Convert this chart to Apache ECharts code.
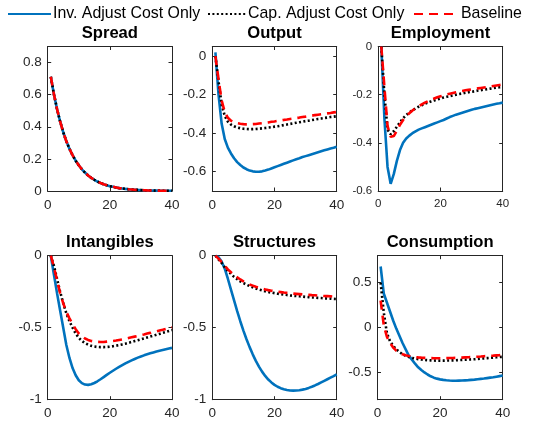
<!DOCTYPE html>
<html>
<head>
<meta charset="utf-8">
<script src="https://cdn.jsdelivr.net/npm/echarts@6/dist/echarts.min.js"></script>
<style>html,body{margin:0;padding:0;background:#fff}#c{width:551px;height:423px}</style>
</head>
<body>
<div id="c"></div>
<script>
const periods = [1,2,3,4,5,6,7,8,9,10,11,12,13,14,15,16,17,18,19,20,21,22,23,24,25,26,27,28,29,30,31,32,33,34,35,36,37,38,39,40];
const seriesNames = ['Inv. Adjust Cost Only', 'Cap. Adjust Cost Only', 'Baseline'];
const panelTitles = ['Spread', 'Output', 'Employment', 'Intangibles', 'Structures', 'Consumption'];

const spreadInv = [0.712,0.603,0.511,0.433,0.366,0.31,0.263,0.223,0.189,0.16,0.135,0.115,0.097,0.082,0.07,0.059,0.05,0.042,0.036,0.03,0.026,0.022,0.018,0.016,0.013,0.011,0.0095,0.008,0.0068,0.0058,0.0049,0.0041,0.0035,0.003,0.0025,0.0021,0.0018,0.0015,0.0013,0.0011];
const spreadCap = [0.712,0.603,0.511,0.433,0.366,0.31,0.263,0.223,0.189,0.16,0.135,0.115,0.097,0.082,0.07,0.059,0.05,0.042,0.036,0.03,0.026,0.022,0.018,0.016,0.013,0.011,0.0095,0.008,0.0068,0.0058,0.0049,0.0041,0.0035,0.003,0.0025,0.0021,0.0018,0.0015,0.0013,0.0011];
const spreadBase = [0.712,0.603,0.511,0.433,0.366,0.31,0.263,0.223,0.189,0.16,0.135,0.115,0.097,0.082,0.07,0.059,0.05,0.042,0.036,0.03,0.026,0.022,0.018,0.016,0.013,0.011,0.0095,0.008,0.0068,0.0058,0.0049,0.0041,0.0035,0.003,0.0025,0.0021,0.0018,0.0015,0.0013,0.0011];

const outputInv = [0.02,-0.2,-0.35,-0.43,-0.475,-0.505,-0.53,-0.55,-0.565,-0.578,-0.587,-0.594,-0.598,-0.6,-0.6,-0.598,-0.594,-0.589,-0.583,-0.577,-0.571,-0.565,-0.559,-0.553,-0.547,-0.541,-0.535,-0.53,-0.524,-0.519,-0.514,-0.509,-0.504,-0.499,-0.494,-0.489,-0.484,-0.479,-0.475,-0.47];
const outputCap = [0,-0.13,-0.25,-0.31,-0.34,-0.355,-0.364,-0.37,-0.374,-0.377,-0.378,-0.379,-0.379,-0.378,-0.377,-0.375,-0.373,-0.371,-0.369,-0.366,-0.364,-0.361,-0.358,-0.355,-0.352,-0.349,-0.346,-0.343,-0.34,-0.337,-0.335,-0.332,-0.329,-0.326,-0.324,-0.321,-0.319,-0.316,-0.314,-0.312];
const outputBase = [0,-0.12,-0.23,-0.29,-0.32,-0.335,-0.343,-0.348,-0.351,-0.353,-0.354,-0.354,-0.353,-0.352,-0.35,-0.348,-0.346,-0.344,-0.341,-0.339,-0.336,-0.334,-0.331,-0.329,-0.326,-0.324,-0.321,-0.319,-0.316,-0.314,-0.311,-0.309,-0.306,-0.304,-0.302,-0.299,-0.297,-0.295,-0.292,-0.29];

const employInv = [0,-0.3,-0.5,-0.57,-0.53,-0.475,-0.43,-0.4,-0.382,-0.37,-0.36,-0.352,-0.345,-0.34,-0.335,-0.33,-0.325,-0.32,-0.315,-0.31,-0.305,-0.299,-0.293,-0.288,-0.283,-0.279,-0.275,-0.271,-0.267,-0.263,-0.259,-0.256,-0.253,-0.25,-0.247,-0.244,-0.241,-0.238,-0.236,-0.233];
const employCap = [0,-0.2,-0.345,-0.365,-0.352,-0.333,-0.314,-0.298,-0.285,-0.274,-0.265,-0.257,-0.25,-0.244,-0.238,-0.233,-0.228,-0.224,-0.22,-0.216,-0.212,-0.209,-0.206,-0.203,-0.2,-0.197,-0.195,-0.192,-0.19,-0.188,-0.186,-0.183,-0.181,-0.179,-0.177,-0.175,-0.173,-0.171,-0.169,-0.167];
const employBase = [0,-0.17,-0.33,-0.375,-0.372,-0.35,-0.325,-0.305,-0.29,-0.277,-0.266,-0.256,-0.248,-0.24,-0.233,-0.227,-0.221,-0.216,-0.211,-0.207,-0.203,-0.199,-0.196,-0.193,-0.19,-0.187,-0.185,-0.182,-0.18,-0.178,-0.176,-0.174,-0.172,-0.17,-0.168,-0.166,-0.164,-0.162,-0.16,-0.158];

const intangInv = [0,-0.13,-0.26,-0.38,-0.5,-0.62,-0.71,-0.78,-0.83,-0.865,-0.885,-0.895,-0.897,-0.893,-0.884,-0.872,-0.858,-0.843,-0.828,-0.813,-0.799,-0.785,-0.772,-0.76,-0.748,-0.737,-0.727,-0.717,-0.708,-0.7,-0.692,-0.685,-0.678,-0.672,-0.666,-0.66,-0.655,-0.65,-0.645,-0.64];
const intangCap = [0,-0.07,-0.16,-0.25,-0.33,-0.4,-0.455,-0.5,-0.54,-0.57,-0.592,-0.607,-0.618,-0.626,-0.631,-0.634,-0.635,-0.635,-0.634,-0.632,-0.629,-0.625,-0.621,-0.616,-0.611,-0.605,-0.599,-0.593,-0.587,-0.581,-0.575,-0.568,-0.562,-0.556,-0.549,-0.543,-0.536,-0.53,-0.523,-0.516];
const intangBase = [0,-0.08,-0.17,-0.26,-0.33,-0.39,-0.435,-0.475,-0.51,-0.54,-0.56,-0.575,-0.585,-0.592,-0.596,-0.598,-0.599,-0.599,-0.597,-0.595,-0.592,-0.589,-0.585,-0.581,-0.577,-0.572,-0.567,-0.562,-0.557,-0.552,-0.547,-0.541,-0.536,-0.53,-0.525,-0.519,-0.514,-0.508,-0.503,-0.497];

const structInv = [0,-0.01,-0.04,-0.09,-0.16,-0.235,-0.31,-0.385,-0.455,-0.52,-0.58,-0.635,-0.685,-0.73,-0.77,-0.805,-0.835,-0.86,-0.88,-0.897,-0.91,-0.92,-0.928,-0.933,-0.936,-0.937,-0.936,-0.934,-0.93,-0.925,-0.918,-0.91,-0.901,-0.891,-0.88,-0.869,-0.858,-0.847,-0.836,-0.824];
const structCap = [0,-0.025,-0.05,-0.08,-0.105,-0.127,-0.147,-0.163,-0.178,-0.19,-0.201,-0.211,-0.22,-0.228,-0.235,-0.241,-0.247,-0.252,-0.256,-0.26,-0.264,-0.267,-0.27,-0.273,-0.276,-0.278,-0.28,-0.282,-0.284,-0.286,-0.288,-0.29,-0.291,-0.293,-0.294,-0.296,-0.297,-0.298,-0.3,-0.301];
const structBase = [0,-0.02,-0.045,-0.07,-0.095,-0.115,-0.135,-0.15,-0.165,-0.178,-0.19,-0.2,-0.208,-0.216,-0.223,-0.229,-0.234,-0.239,-0.243,-0.247,-0.25,-0.253,-0.256,-0.258,-0.261,-0.263,-0.265,-0.267,-0.269,-0.27,-0.272,-0.274,-0.275,-0.277,-0.278,-0.28,-0.281,-0.282,-0.284,-0.285];

const consInv = [0.68,0.38,0.28,0.18,0.08,-0.01,-0.09,-0.17,-0.24,-0.31,-0.355,-0.4,-0.44,-0.47,-0.497,-0.52,-0.54,-0.555,-0.566,-0.574,-0.58,-0.584,-0.587,-0.589,-0.589,-0.588,-0.587,-0.585,-0.583,-0.58,-0.577,-0.573,-0.569,-0.565,-0.56,-0.555,-0.55,-0.544,-0.538,-0.532];
const consCap = [0.5,0.17,-0.06,-0.15,-0.2,-0.24,-0.27,-0.295,-0.312,-0.325,-0.335,-0.343,-0.349,-0.354,-0.358,-0.361,-0.363,-0.365,-0.366,-0.366,-0.366,-0.365,-0.364,-0.363,-0.362,-0.36,-0.358,-0.356,-0.354,-0.352,-0.35,-0.347,-0.344,-0.341,-0.338,-0.335,-0.332,-0.329,-0.326,-0.323];
const consBase = [0.3,0.03,-0.1,-0.17,-0.22,-0.255,-0.28,-0.296,-0.307,-0.315,-0.321,-0.326,-0.33,-0.333,-0.335,-0.337,-0.338,-0.339,-0.339,-0.339,-0.339,-0.338,-0.337,-0.336,-0.335,-0.333,-0.332,-0.33,-0.328,-0.326,-0.324,-0.322,-0.32,-0.317,-0.315,-0.312,-0.31,-0.307,-0.305,-0.302];

const xTicks = [0, 20, 40];
const spreadTicks = [0, 0.2, 0.4, 0.6, 0.8];
const outputTicks = [-0.6, -0.4, -0.2, 0];
const employTicks = [-0.6, -0.4, -0.2, 0];
const intangTicks = [-1, -0.5, 0];
const structTicks = [-1, -0.5, 0];
const consTicks = [-0.5, 0, 0.5];

const panelData = [
  [spreadInv, spreadCap, spreadBase],
  [outputInv, outputCap, outputBase],
  [employInv, employCap, employBase],
  [intangInv, intangCap, intangBase],
  [structInv, structCap, structBase],
  [consInv, consCap, consBase]
];
const panelTicks = [spreadTicks, outputTicks, employTicks, intangTicks, structTicks, consTicks];
const panelRanges = [[0, 0.9], [-0.7, 0.05], [-0.6, 0], [-1, 0], [-1, 0], [-0.8, 0.8]];

// layout
const grids = [
  {left: 47.7, top: 46.5, width: 124.3, height: 144.5},
  {left: 212.3, top: 46.5, width: 124.4, height: 144.5},
  {left: 378.2, top: 46.5, width: 124.5, height: 144.5},
  {left: 47.7, top: 255.7, width: 124.3, height: 144},
  {left: 212.3, top: 255.7, width: 124.4, height: 144},
  {left: 377.5, top: 255.7, width: 125.2, height: 144}
];
const labelSizes = [13.5, 13.5, 11.5, 13.5, 13.5, 13.5];
const FONT = 'Liberation Sans, Arial, Helvetica, sans-serif';
const AX = '#262626';
const fmt = v => String(Math.round(v * 100) / 100);

const styles = [
  {color: '#0072BD', type: 'solid', width: 2.6},
  {color: '#000000', type: [2, 2.4], width: 2.6},
  {color: '#FF0000', type: [9, 6], width: 2.6}
];

const xAxes = [], yAxes = [], series = [], titles = [];
grids.forEach((g, i) => {
  const ls = labelSizes[i];
  xAxes.push({
    gridIndex: i, type: 'value', min: 0, max: 40, position: 'bottom',
    axisLine: {onZero: false, lineStyle: {color: AX, width: 1}},
    axisTick: {inside: true, length: 3.5, customValues: xTicks, lineStyle: {color: AX}},
    axisLabel: {customValues: xTicks, color: AX, fontSize: ls, fontFamily: FONT, margin: 7, formatter: fmt},
    splitLine: {show: false}
  });
  xAxes.push({
    gridIndex: i, type: 'value', min: 0, max: 40, position: 'top',
    axisLine: {onZero: false, lineStyle: {color: AX, width: 1}},
    axisTick: {inside: true, length: 3.5, customValues: xTicks, lineStyle: {color: AX}},
    axisLabel: {show: false},
    splitLine: {show: false}
  });
  const [mn, mx] = panelRanges[i];
  yAxes.push({
    gridIndex: i, type: 'value', min: mn, max: mx, position: 'left',
    axisLine: {show: true, onZero: false, lineStyle: {color: AX, width: 1}},
    axisTick: {show: true, inside: true, length: 3.5, customValues: panelTicks[i], lineStyle: {color: AX}},
    axisLabel: {customValues: panelTicks[i], color: AX, fontSize: ls, fontFamily: FONT, margin: 6, formatter: fmt},
    splitLine: {show: false}
  });
  yAxes.push({
    gridIndex: i, type: 'value', min: mn, max: mx, position: 'right',
    axisLine: {show: true, onZero: false, lineStyle: {color: AX, width: 1}},
    axisTick: {show: true, inside: true, length: 3.5, customValues: panelTicks[i], lineStyle: {color: AX}},
    axisLabel: {show: false},
    splitLine: {show: false}
  });
  panelData[i].forEach((arr, k) => {
    series.push({
      name: seriesNames[k], type: 'line',
      xAxisIndex: 2 * i, yAxisIndex: 2 * i,
      data: periods.map((t, j) => [t, arr[j]]),
      symbol: 'none', smooth: false, animation: false,
      lineStyle: {color: styles[k].color, type: styles[k].type, width: styles[k].width},
      itemStyle: {color: styles[k].color},
      z: 2 + k
    });
  });
  titles.push({
    text: panelTitles[i],
    left: g.left + g.width / 2, textAlign: 'center',
    top: i < 3 ? 25 : 234, padding: 0,
    textStyle: {fontSize: 16.6, fontWeight: 'bold', color: '#000', fontFamily: FONT}
  });
});

const legendLeft = [7, 207, 413];
const legendW = [43, 38, 45];
const legends = seriesNames.map((n, k) => ({
  data: [n], left: legendLeft[k], top: 6, padding: 0,
  itemWidth: legendW[k], itemHeight: 14, itemGap: 0,
  itemStyle: {opacity: 0, color: 'transparent', borderWidth: 0},
  textStyle: {fontSize: 15.9, color: '#000', fontFamily: FONT, padding: [0, 0, 0, -3]},
  selectedMode: false
}));

const chart = echarts.init(document.getElementById('c'), null, {renderer: 'canvas'});
chart.setOption({
  animation: false,
  backgroundColor: '#fff',
  title: titles,
  legend: legends,
  grid: grids.map(g => Object.assign({containLabel: false}, g)),
  xAxis: xAxes,
  yAxis: yAxes,
  series: series
});
</script>
</body>
</html>
